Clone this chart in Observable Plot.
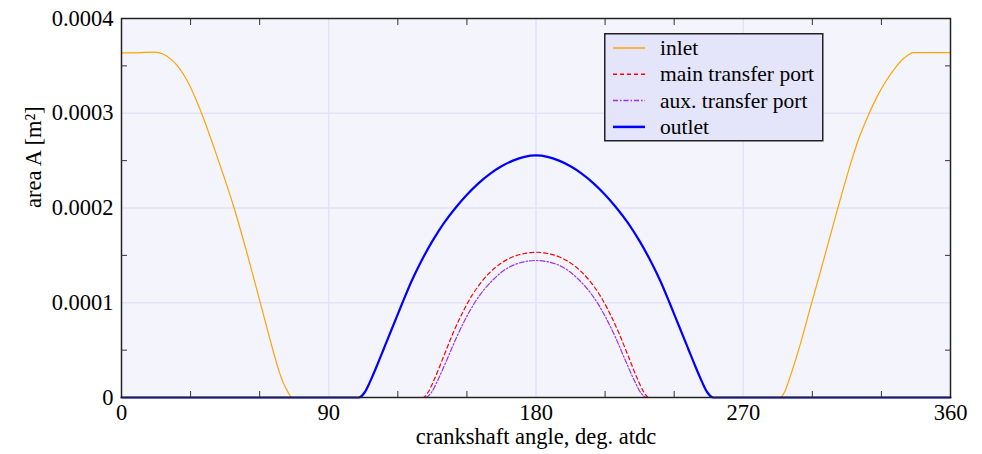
<!DOCTYPE html>
<html>
<head>
<meta charset="utf-8">
<script src="https://cdn.jsdelivr.net/npm/d3@7"></script>
<script src="https://cdn.jsdelivr.net/npm/@observablehq/plot@0.6"></script>
<style>
  html, body { margin: 0; padding: 0; background: #fff; }
  #wrap { position: relative; width: 982px; height: 454px; font-family: "Liberation Serif", "DejaVu Serif", serif; }
  #legend { position: absolute; left: 604px; top: 33px; }
</style>
</head>
<body>
<div id="wrap"></div>
<script>
// ---- data (angle in deg, area in m^2) ----
const inletAngle = [0, 5, 10, 14, 18, 21.3, 25, 28.5, 34.3, 40.1, 44.5, 48.8, 54.6, 60.4, 66.1, 68, 70, 72, 74,
  286, 288, 290.5, 294.5, 299.2, 305, 310.8, 316.6, 320, 324, 328, 332, 336, 340, 344, 350, 360];
const inletArea = [3.638e-4, 3.638e-4, 3.642e-4, 3.645e-4, 3.625e-4, 3.574e-4, 3.48e-4, 3.346e-4, 3.029e-4, 2.642e-4, 2.33e-4, 2.008e-4, 1.516e-4, 0.989e-4, 0.47e-4, 0.31e-4, 0.17e-4, 0.07e-4, 0,
  0, 0.06e-4, 0.23e-4, 0.54e-4, 0.953e-4, 1.46e-4, 1.974e-4, 2.466e-4, 2.72e-4, 2.96e-4, 3.17e-4, 3.34e-4, 3.48e-4, 3.585e-4, 3.64e-4, 3.64e-4, 3.64e-4];

const outletAngle = [0, 103, 105.5, 108, 111, 114, 118, 122, 126, 130, 135, 140, 145, 150, 155, 160, 165, 170, 175, 180,
  185, 190, 195, 200, 205, 210, 215, 220, 225, 230, 234, 238, 242, 246, 249, 252, 254.5, 257, 360];
const outletArea = [0, 0, 0.05e-4, 0.17e-4, 0.34e-4, 0.52e-4, 0.76e-4, 1.0e-4, 1.23e-4, 1.43e-4, 1.65e-4, 1.84e-4, 2.0e-4, 2.14e-4, 2.26e-4, 2.36e-4, 2.44e-4, 2.5e-4, 2.54e-4, 2.555e-4,
  2.54e-4, 2.5e-4, 2.44e-4, 2.36e-4, 2.26e-4, 2.14e-4, 2.0e-4, 1.84e-4, 1.65e-4, 1.43e-4, 1.23e-4, 1.0e-4, 0.76e-4, 0.52e-4, 0.34e-4, 0.17e-4, 0.05e-4, 0, 0];

const mainAngle = [0, 131, 133, 136, 140, 144, 148, 152, 156, 160, 165, 170, 175, 180,
  185, 190, 195, 200, 204, 208, 212, 216, 220, 224, 227, 229, 360];
const mainArea = [0, 0, 0.05e-4, 0.2e-4, 0.44e-4, 0.68e-4, 0.89e-4, 1.07e-4, 1.21e-4, 1.32e-4, 1.42e-4, 1.485e-4, 1.52e-4, 1.533e-4,
  1.52e-4, 1.485e-4, 1.42e-4, 1.32e-4, 1.21e-4, 1.07e-4, 0.89e-4, 0.68e-4, 0.44e-4, 0.2e-4, 0.05e-4, 0, 0];

const auxAngle = [0, 132, 134.5, 137.5, 141.5, 145.5, 149.5, 153.5, 157.5, 161.5, 166, 171, 175.5, 180,
  184.5, 189, 194, 198.5, 202.5, 206.5, 210.5, 214.5, 218.5, 222.5, 225.5, 228, 360];
const auxArea = [0, 0, 0.05e-4, 0.19e-4, 0.41e-4, 0.635e-4, 0.835e-4, 1.005e-4, 1.14e-4, 1.245e-4, 1.34e-4, 1.405e-4, 1.435e-4, 1.446e-4,
  1.435e-4, 1.405e-4, 1.34e-4, 1.245e-4, 1.14e-4, 1.005e-4, 0.835e-4, 0.635e-4, 0.41e-4, 0.19e-4, 0.05e-4, 0, 0];

const xMajor = [0, 90, 180, 270, 360];
const xMinor = [30, 60, 120, 150, 210, 240, 300, 330];
const yMajor = [0, 0.0001, 0.0002, 0.0003, 0.0004];
const yMinor = [0.00005, 0.00015, 0.00025, 0.00035];
const yTickLabels = ["0", "0.0001", "0.0002", "0.0003", "0.0004"];
const xTickLabels = ["0", "90", "180", "270", "360"];

const seriesNames = ["inlet", "main transfer port", "aux. transfer port", "outlet"];
const seriesColors = ["#ffa500", "#ff0000", "#9933ee", "#0000ff"];
const seriesDash = [null, "4,3", "5,2,1.5,2", null];
const seriesWidth = [1.2, 1.2, 1.2, 2.2];

const toRows = (a, v) => a.map((x, i) => ({x, y: v[i]}));
const rows = [toRows(inletAngle, inletArea), toRows(mainAngle, mainArea), toRows(auxAngle, auxArea), toRows(outletAngle, outletArea)];

const FS = 22.5;
const plot = Plot.plot({
  width: 982,
  height: 454,
  marginLeft: 121,
  marginRight: 32,
  marginTop: 18,
  marginBottom: 57,
  style: {fontFamily: '"Liberation Serif", serif', fontSize: FS + "px", background: "transparent", color: "#000", overflow: "visible"},
  x: {domain: [0, 360]},
  y: {domain: [0, 0.0004]},
  marks: [
    Plot.frame({fill: "#f4f4fd", stroke: null}),
    Plot.gridX(xMajor.slice(1, -1), {stroke: "#e2e2f8", strokeOpacity: 1, strokeWidth: 1.5}),
    Plot.gridY(yMajor.slice(1, -1), {stroke: "#e2e2f8", strokeOpacity: 1, strokeWidth: 1.5}),
    ...rows.map((r, i) => Plot.line(r, {x: "x", y: "y", stroke: seriesColors[i], strokeWidth: seriesWidth[i], strokeDasharray: seriesDash[i], curve: "monotone-x"})),
    Plot.frame({stroke: "#222", strokeWidth: 1.5}),
    Plot.axisX(xMinor, {anchor: "bottom", tickSize: 6, insetBottom: 6, text: null, label: null, stroke: "#333"}),
    Plot.axisX(xMinor, {anchor: "top", tickSize: 6, insetTop: 6, text: null, label: null, stroke: "#333"}),
    Plot.axisY(yMinor, {anchor: "left", tickSize: 6, insetLeft: 6, text: null, label: null, stroke: "#333"}),
    Plot.axisY(yMinor, {anchor: "right", tickSize: 6, insetRight: 6, text: null, label: null, stroke: "#333"}),
    Plot.axisX(xMajor, {anchor: "bottom", tickSize: 0, tickPadding: 7, tickFormat: (d, i) => xTickLabels[i], label: null, fill: "#000"}),
    Plot.axisY(yMajor, {anchor: "left", tickSize: 0, tickPadding: 8, tickFormat: (d, i) => yTickLabels[i], label: null, fill: "#000"}),
    Plot.text(["crankshaft angle, deg. atdc"], {frameAnchor: "bottom", dy: 46, fill: "#000", fontSize: FS}),
    Plot.text(["area A [m²]"], {frameAnchor: "left", dx: -88, rotate: -90, fill: "#000", fontSize: FS})
  ]
});
document.getElementById("wrap").appendChild(plot);

// legend
const LFS = 21.5;
const lg = d3.select("#wrap").append("svg").attr("id", "legend")
  .attr("width", 220).attr("height", 109)
  .style("font-family", '"Liberation Serif", serif');
lg.append("rect").attr("x", 0.75).attr("y", 0.75).attr("width", 218).attr("height", 107)
  .attr("fill", "#e4e4fa").attr("stroke", "#222").attr("stroke-width", 1.5);
seriesNames.forEach((name, i) => {
  const cy = 15 + i * 26.3;
  lg.append("line").attr("x1", 9).attr("x2", 41).attr("y1", cy).attr("y2", cy)
    .attr("stroke", seriesColors[i]).attr("stroke-width", seriesWidth[i] + 0.3)
    .attr("stroke-dasharray", seriesDash[i]);
  lg.append("text").attr("x", 56).attr("y", cy).attr("dy", "0.33em")
    .attr("font-size", LFS).attr("fill", "#000").text(name);
});
</script>
</body>
</html>
